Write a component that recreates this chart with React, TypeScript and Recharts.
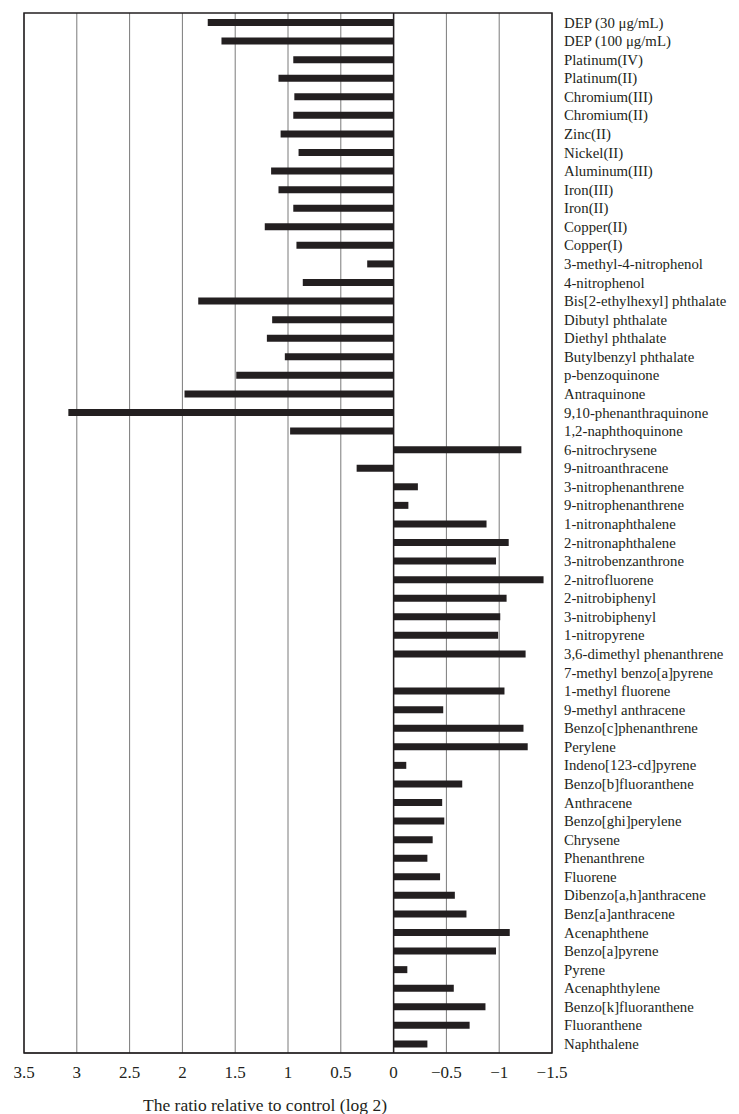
import { BarChart, Bar, XAxis, YAxis, CartesianGrid, ReferenceArea, ReferenceLine } from "recharts"

const compounds = [
  "DEP (30 \u03bcg/mL)",
  "DEP (100 \u03bcg/mL)",
  "Platinum(IV)",
  "Platinum(II)",
  "Chromium(III)",
  "Chromium(II)",
  "Zinc(II)",
  "Nickel(II)",
  "Aluminum(III)",
  "Iron(III)",
  "Iron(II)",
  "Copper(II)",
  "Copper(I)",
  "3-methyl-4-nitrophenol",
  "4-nitrophenol",
  "Bis[2-ethylhexyl] phthalate",
  "Dibutyl phthalate",
  "Diethyl phthalate",
  "Butylbenzyl phthalate",
  "p-benzoquinone",
  "Antraquinone",
  "9,10-phenanthraquinone",
  "1,2-naphthoquinone",
  "6-nitrochrysene",
  "9-nitroanthracene",
  "3-nitrophenanthrene",
  "9-nitrophenanthrene",
  "1-nitronaphthalene",
  "2-nitronaphthalene",
  "3-nitrobenzanthrone",
  "2-nitrofluorene",
  "2-nitrobiphenyl",
  "3-nitrobiphenyl",
  "1-nitropyrene",
  "3,6-dimethyl phenanthrene",
  "7-methyl benzo[a]pyrene",
  "1-methyl fluorene",
  "9-methyl anthracene",
  "Benzo[c]phenanthrene",
  "Perylene",
  "Indeno[123-cd]pyrene",
  "Benzo[b]fluoranthene",
  "Anthracene",
  "Benzo[ghi]perylene",
  "Chrysene",
  "Phenanthrene",
  "Fluorene",
  "Dibenzo[a,h]anthracene",
  "Benz[a]anthracene",
  "Acenaphthene",
  "Benzo[a]pyrene",
  "Pyrene",
  "Acenaphthylene",
  "Benzo[k]fluoranthene",
  "Fluoranthene",
  "Naphthalene",
]

// log2 ratio relative to control, same order as compounds (null = no bar)
const ratios: (number | null)[] = [
  1.76, 1.63, 0.95, 1.09, 0.94, 0.95, 1.07, 0.9, 1.16, 1.09, 0.95, 1.22, 0.92, 0.25,
  0.86, 1.85, 1.15, 1.2, 1.03, 1.49, 1.98, 3.08, 0.98, -1.21, 0.35, -0.23, -0.14,
  -0.88, -1.09, -0.97, -1.42, -1.07, -1.01, -0.99, -1.25, null, -1.05, -0.47, -1.23,
  -1.27, -0.12, -0.65, -0.46, -0.48, -0.37, -0.32, -0.44, -0.58, -0.69, -1.1, -0.97,
  -0.13, -0.57, -0.87, -0.72, -0.32,
]

const xTicks = [3.5, 3, 2.5, 2, 1.5, 1, 0.5, 0, -0.5, -1, -1.5]

const data = compounds.map((name, i) => ({ name, ratio: ratios[i] }))

const fmt = (v: number) => (v < 0 ? "\u2212" + Math.abs(v) : String(v))

const ink = "#231f20"
const font = "'Liberation Serif', 'Times New Roman', serif"

export default function App() {
  return (
    <div style={{ width: 723, height: 1106, fontFamily: font }}>
      <BarChart
        width={723}
        height={1106}
        data={data}
        layout="vertical"
        margin={{ top: 5, right: 0, left: 16, bottom: 1 }}
        barSize={7}
      >
        <CartesianGrid horizontal={false} stroke="#7a7a7a" strokeWidth={1} />
        <XAxis
          type="number"
          domain={[-1.5, 3.5]}
          ticks={xTicks}
          reversed
          allowDataOverflow
          tickFormatter={fmt}
          axisLine={{ stroke: ink }}
          tickLine={false}
          tickMargin={7}
          height={60}
          tick={{ fontSize: 17, fill: ink, fontFamily: font }}
          label={{
            value: "The ratio relative to control (log 2)",
            position: "insideBottom",
            offset: 2,
            dx: -23,
            style: { fontSize: 17.5, fill: ink, fontFamily: font },
          }}
        />
        <YAxis
          type="category"
          dataKey="name"
          orientation="right"
          width={179}
          interval={0}
          axisLine={false}
          tickLine={false}
          tickMargin={6}
          tick={{ fontSize: 14.8, fill: ink, fontFamily: font, textAnchor: "start" }}
        />
        <ReferenceLine x={0} stroke={ink} strokeWidth={1.5} />
        <Bar dataKey="ratio" fill={ink} isAnimationActive={false} />
        <ReferenceArea x1={3.5} x2={-1.5} fill="none" stroke={ink} strokeWidth={1.5} ifOverflow="visible" />
      </BarChart>
    </div>
  )
}
